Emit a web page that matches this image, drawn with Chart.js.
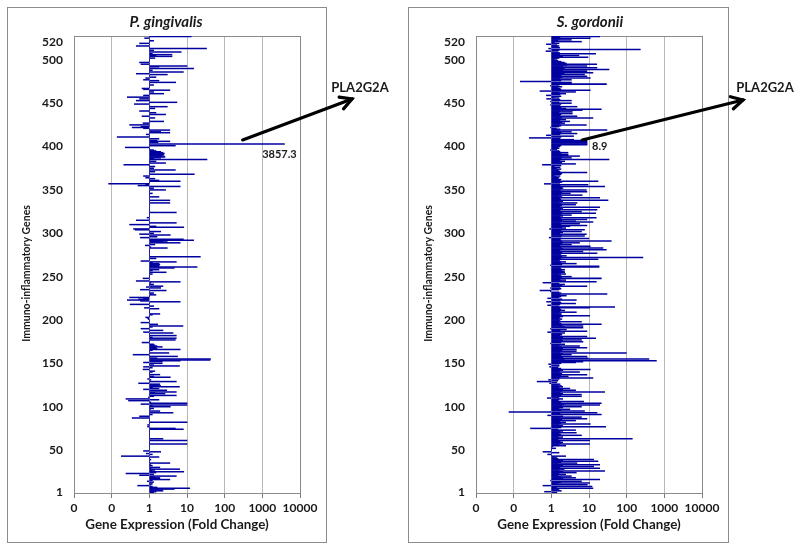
<!DOCTYPE html>
<html><head><meta charset="utf-8">
<script src="https://cdn.jsdelivr.net/npm/chart.js@4"></script>
<style>
body{margin:0;background:#fff;width:800px;height:550px;position:relative;overflow:hidden;font-family:Lato,sans-serif}
.box{position:absolute;border:1.5px solid #8c8c8c;box-sizing:border-box}
canvas{position:absolute;top:0}
</style></head><body>
<div class="box" style="left:7px;top:7px;width:320px;height:536px"></div>
<div class="box" style="left:408px;top:7px;width:321px;height:536px"></div>
<canvas id="c1" width="400" height="550" style="left:0"></canvas>
<canvas id="c2" width="400" height="550" style="left:400px"></canvas>
<script>
// ---- data ----
const geneCount = 527;
const genes = Array.from({length: geneCount}, (_, i) => i + 1);
const yTickValues = [1, 50, 100, 150, 200, 250, 300, 350, 400, 450, 500, 520];
const xTickValues = [0.01, 0.1, 1, 10, 100, 1000, 10000];
const xTickLabels = ['0', '0', '1', '10', '100', '1000', '10000'];
const highlightGene = 403;
const highlightName = 'PLA2G2A';

// P. gingivalis fold changes, gene 1..527
const pgFold = [
1.3,1.5,2.3,2.2,4.6,11.8,1.6,1.2,0.49,1.1,
1.2,1,1.3,0.88,1.2,3.5,1.9,1.9,1.4,5.2,
0.55,1.3,0.24,1.5,8.2,1.2,1.4,6.4,1.1,1.9,
1,1.2,1,1.1,3.5,1,1,1,1.1,1,
1,1.8,0.18,1,1.2,0.83,1,2,0.7,1,
1,1,1,1,1,1,10,1,1,1,
10,1,2.3,1,1,1,1,1,1,1,
1,1,1,8,4.9,1,0.9,1,0.9,1,
1,10,1,1,1,1,0.35,1,0.55,1,
1.2,1,4.25,1,1.9,1,1.06,1.3,1,3.6,
1.2,10,0.6,10,1.1,1,0.28,1.8,0.24,1,
0.95,1.3,5.2,1,2.6,1.4,5.2,1,2.9,0.7,
1.8,1.2,6.3,2,1.8,1.9,0.52,1,5.2,1,
1.1,0.9,1,3.6,1.3,1,1.9,1,1,1.2,
1.4,1,0.68,1,1.2,0.7,6.3,1.3,1,2.2,
0.7,2.2,6.6,41,42,1.6,1,5.6,1,0.37,
1,3.3,1,1,1.2,6.6,1.6,1.5,2.2,1.6,
1.4,1.3,1,0.64,1,1,4.9,1,5.2,1.2,
1,5.2,1,1,4.25,0.7,1,2.3,1,0.6,
1,1.2,7.8,1,1.66,1,0.6,1,1,1,
0.93,0.9,0.8,1,1,1.2,1.9,1,1,1,
1,1,1.8,0.74,1,1.3,1,0.31,1,1,
6.6,0.58,0.26,0.52,0.7,0.3,1,1,1.5,1.1,
1.3,1,1,2.8,0.58,1,2,0.83,2.3,1,
1.3,1,1.1,6.6,0.45,1,1,0.68,1,1,
1,1,1.2,1,2.8,1,1.2,1.8,1,4.6,
18.5,1.8,1.8,1.9,1.8,1.2,5.2,0.6,1,1,
1.5,1,22.6,1,1,1,1,1,1,1,
1,1,3,1.1,1,0.78,1.4,1,6.6,3,
2.3,15,8,1,0.58,1.6,1,3.6,0.55,1.3,
1,2,1,0.42,0.38,1,8.2,1.5,1,0.3,
1,5.2,1,1,0.45,1,1,0.87,1,1,
1,1,1,5.2,1,1,1,1,1,1,
1,1,1,1,3.5,1,1,3.5,1,1,
1,1.8,1,1,1,1.2,1,1,1,2.7,
1,1.3,1,6.6,0.5,0.8,0.083,1,1,6.6,
1.8,1,1.4,0.8,1,0.7,1,15.6,1,1,
1.4,1,4.9,1,1.3,1,1.4,1,0.21,1,
2.7,1,1.5,1,34,1.3,2,2.6,2.5,2.2,
2.4,2.5,2.3,2,1.5,1.3,1,1,0.23,1,
4.9,1,3857.3,1,1.7,3.5,1.6,1,1.8,1,
0.14,1,1,0.83,1,3.5,2,1,3.5,1,
0.7,0.35,0.6,1,0.3,1,0.68,1,2.4,1,
1,1,1.4,1,0.64,1,2.7,1,1.5,1,
0.55,1,1,1.4,1,3,1,1,0.4,1,
5.4,1,0.45,1,0.55,1,0.26,1,0.7,1,
2.4,1,1.3,1,3.5,0.7,0.64,1,1,1,
1.3,1,1,5,1,1.8,0.7,1,0.8,1.5,
1,1,3,0.45,1,8,1,1.2,1,15,
1,1.8,10,1,0.6,1,0.55,1,1,1,
1,1.4,1,4,1.5,4,1.2,1,7,1,
1.3,1,33,1,1,0.45,1,1,0.55,1,
1,1.3,1,1,0.75,1,12.9
];

// S. gordonii fold changes, gene 1..527
const sgFold = [
1.4,0.66,1.84,1.5,1.6,12.7,1.4,12,0.6,9,
1.5,10.4,1.8,6.3,0.95,19.2,2,4.4,1.8,3.4,
1.5,2.4,1.6,4.6,2,26,1.6,2.2,19.2,1.7,
13.3,2,19.2,1.5,4.8,1.8,17.3,2,13.3,1.5,
1.4,1.2,2.4,1,0.8,1,1.6,0.6,1,1,
1,1.3,1,1.1,2.4,1.6,10.4,1.8,2,1.7,
10.4,1.5,141,1.6,2,1.5,6.3,1.8,1.6,4.6,
1.7,2,4.4,1.5,0.28,1.8,27.7,2,1.6,10.8,
1.8,2.4,1.7,4.4,1.9,8.8,1.6,6.3,2,0.8,
21.2,1.7,16.3,0.075,7.6,1.8,3.1,1.6,2,6.3,
1.9,19.2,2.2,21.2,1.8,7.2,1.5,1.6,2,0.78,
1.6,6.3,1.8,6.3,2,1.7,26,1.9,4.4,2,
3.1,1.6,2,1.84,1.5,1.7,0.9,1.4,0.42,1.5,
0.85,1.6,12.7,1.7,2.8,1.8,8.8,1.9,1.6,5.6,
1.7,2,10.8,1.8,1.5,0.9,1.6,1.6,0.85,1.8,
4.4,6.9,615,2.2,390,9.4,2,8.8,1.8,3.4,
2,98,1.7,4.6,1.9,4.6,2,8.8,1.8,5.6,
1.6,2.26,0.95,1.8,6.9,2,6.3,1.9,15,2,
8.8,1.7,1.9,1.8,2.26,0.8,8.8,1.7,2.5,0.95,
6.9,2.2,6.9,1.9,21.2,1.8,1.6,6.3,1.7,1.6,
1.9,1.6,1.7,2,10.4,1.8,1.84,1.6,4.6,1.7,
2.26,1.8,1.7,10.4,48,1.6,0.8,1.7,4.4,1.8,
0.75,1.7,4.6,1.9,0.8,1.6,1.8,2.5,1.7,30,
1.8,1.6,0.95,0.5,1.6,1.8,0.95,1.7,8.8,1.9,
2.26,1.6,0.6,15.6,1.8,2.4,1.7,21.2,1.9,3.4,
1.8,1.6,2.4,1.8,2.26,2.2,1.9,2.26,1.8,1.7,
18.4,18.4,0.95,1.9,4.6,1.8,2.4,1.7,1.6,17.3,
1.8,270,1.9,2.5,1.7,1.8,16.3,1.9,6.9,1.7,
28.8,2,23.5,1.8,10.8,1.7,3.4,1.9,5.6,2,
39,1.8,1.7,9.9,0.88,1.8,7.6,1.9,8.5,1.7,
2,6.3,1.8,7.6,0.9,2.4,1.9,3.1,8.8,1.8,
5.6,1.7,12.7,4.4,1.9,8.8,1.8,15.6,1.7,2,
3.4,1.8,15,1.9,6.3,1.7,16.3,1.8,2,19.2,
1.7,1.9,4.4,1.8,4.8,1.6,2,32,1.8,1.7,
19.2,1.9,1.6,6.6,1.8,3.2,1.9,8.8,1.7,8.5,
1.8,2.04,1.9,26,1.7,9.4,0.65,1.66,1.9,17.3,
1.7,1.8,1.5,1.6,1.36,1.7,1.2,1.8,1.9,8.8,
1.7,1.6,1.5,1.8,1.36,1.7,1.2,1.8,0.58,4.4,
1.8,1.9,2.26,1.7,34,1.8,3.4,1.9,5.6,2.77,
2.77,1.8,2.77,1.7,1.6,0.95,1.4,1.6,1.5,1.66,
1.8,8.8,8.9,8.8,8.8,8.8,8.8,3.9,1.7,0.26,
1.8,3.9,0.74,1.7,4.8,1.8,3.4,1.6,30,1.7,
1.36,0.95,1.6,1.8,8.5,1.7,2.26,1.9,3.07,1.7,
2.4,1.8,12.7,1.9,4.8,1.7,1.8,3.6,1.6,3.6,
1.7,6.6,21.2,2.4,1.8,4.8,1.7,0.95,1.8,3.4,
1.6,0.95,3.4,1.7,0.75,1.6,1.2,1.8,0.74,1.7,
2.4,1.6,4.4,0.5,10.8,1.8,1.7,1.5,1.9,0.95,
1.6,29,3.4,3.4,0.15,1.8,3.4,1.7,10.8,1.9,
8.8,1.8,7.6,2.2,12.7,1.9,8.8,2,34,2.2,
16.3,2,8.8,2.5,16,2.5,2.2,1.8,1.5,1.2,
1.4,1.6,9.4,2,5.4,1.66,15,1.66,1.5,0.72,
1.6,230,0.85,1.66,1.5,1.6,1.4,0.74,1.6,1.2,
6.3,1.5,3.4,1.6,10.8,1.7,19.2
];

// ---- drawing ----
const FONT = 'Lato, "Open Sans", sans-serif';
const TEXT = '#1a1a1a';

const decor = {
  id: 'decor',
  beforeDatasetsDraw(chart) {
    const {ctx, chartArea: a} = chart;
    ctx.save();
    ctx.strokeStyle = '#8a8a8a';
    ctx.lineWidth = 1;
    ctx.strokeRect(Math.round(a.left) + 0.5, Math.round(a.top) + 0.5,
                   Math.round(a.right - a.left), Math.round(a.bottom - a.top));
    ctx.restore();
  },
  afterDraw(chart, args, o) {
    const {ctx, chartArea: a, scales: {x, y}} = chart;
    ctx.save();
    ctx.fillStyle = TEXT;
    // title
    ctx.font = `italic bold 15px ${FONT}`;
    ctx.textAlign = 'center'; ctx.textBaseline = 'middle';
    ctx.fillText(o.title, o.titleX, 22);
    // x axis title
    ctx.font = `bold 13.4px ${FONT}`;
    ctx.fillText('Gene Expression (Fold Change)', (a.left + a.right) / 2 + o.xTitleShift, 525);
    // y axis title
    ctx.font = `bold 10.5px ${FONT}`;
    ctx.save();
    ctx.translate(a.left - 47, (a.top + a.bottom) / 2 + 9);
    ctx.rotate(-Math.PI / 2);
    ctx.fillText('Immuno-inflammatory Genes', 0, 0);
    ctx.restore();
    // highlighted gene annotation
    const val = o.values[highlightGene - 1];
    const by = y.getPixelForValue(highlightGene);
    const bx = x.getPixelForValue(val);
    ctx.font = `bold 11px ${FONT}`;
    ctx.textAlign = o.valueAlign;
    ctx.fillText(o.valueLabel, bx + o.valueDx, by + o.valueDy);
    const sx = x.getPixelForValue(o.arrowFrom), sy = by - 4;
    const ex = a.right + o.arrowDx, ey = o.arrowY;
    ctx.strokeStyle = '#000'; ctx.lineWidth = 3.2; ctx.lineCap = 'round'; ctx.lineJoin = 'miter';
    ctx.beginPath(); ctx.moveTo(sx, sy); ctx.lineTo(ex, ey); ctx.stroke();
    const ang = Math.atan2(ey - sy, ex - sx), hl = 13;
    ctx.beginPath();
    ctx.moveTo(ex - hl * Math.cos(ang - 0.5), ey - hl * Math.sin(ang - 0.5));
    ctx.lineTo(ex, ey);
    ctx.lineTo(ex - hl * Math.cos(ang + 0.5), ey - hl * Math.sin(ang + 0.5));
    ctx.stroke();
    ctx.font = `bold 13px ${FONT}`;
    ctx.textAlign = 'center';
    ctx.fillText(highlightName, a.right + o.nameDx, 88);
    ctx.restore();
  }
};

function makePanel(id, values, opt) {
  const yWidth = opt.plotLeft;
  new Chart(document.getElementById(id), {
    type: 'bar',
    data: {
      datasets: [{
        data: values.map((v, i) => ({x: v, y: genes[i]})),
        base: 1,
        backgroundColor: '#0000a0',
        borderWidth: 0,
        barThickness: 0.85
      }]
    },
    options: {
      responsive: false,
      animation: false,
      indexAxis: 'y',
      layout: {padding: {left: 0, right: 400 - opt.plotRight, top: 36, bottom: 0}},
      plugins: {
        legend: {display: false},
        tooltip: {enabled: false},
        decor: opt
      },
      scales: {
        x: {
          type: 'logarithmic',
          min: 0.01, max: 10000,
          afterBuildTicks: s => { s.ticks = xTickValues.map(v => ({value: v, major: true})); },
          afterFit: s => { s.height = 57; },
          ticks: {
            padding: 3,
            autoSkip: false,
            maxRotation: 0,
            color: TEXT,
            font: {family: FONT, size: 12, weight: 'bold'},
            callback: (v) => xTickLabels[xTickValues.indexOf(v)] ?? ''
          },
          grid: {color: '#b8b8b8', lineWidth: 1, tickLength: 5, tickColor: '#7a7a7a'},
          border: {color: '#7a7a7a', width: 1}
        },
        y: {
          type: 'linear',
          offset: false,
          min: 0.5, max: geneCount + 0.5,
          afterBuildTicks: s => { s.ticks = yTickValues.map(v => ({value: v})); },
          afterFit: s => { s.width = yWidth; },
          ticks: {
            padding: 11,
            autoSkip: false,
            color: TEXT,
            font: {family: FONT, size: 12, weight: 'bold'},
            callback: v => String(v)
          },
          grid: {display: true, offset: false, drawOnChartArea: false, drawTicks: false},
          border: {color: '#7a7a7a', width: 1}
        }
      }
    },
    plugins: [decor]
  });
}

makePanel('c1', pgFold, {
  plotLeft: 74, plotRight: 300, title: 'P. gingivalis', titleX: 166, xTitleShift: -10,
  values: pgFold, valueLabel: '3857.3', valueAlign: 'center', valueDx: -5, valueDy: 10,
  arrowFrom: 300, arrowDx: 52, arrowY: 99, nameDx: 60
});
makePanel('c2', sgFold, {
  plotLeft: 76, plotRight: 302, title: 'S. gordonii', titleX: 190, xTitleShift: 0,
  values: sgFold, valueLabel: '8.9', valueAlign: 'left', valueDx: 5, valueDy: 2,
  arrowFrom: 6.6, arrowDx: 41, arrowY: 100, nameDx: 63
});
</script>
</body></html>
